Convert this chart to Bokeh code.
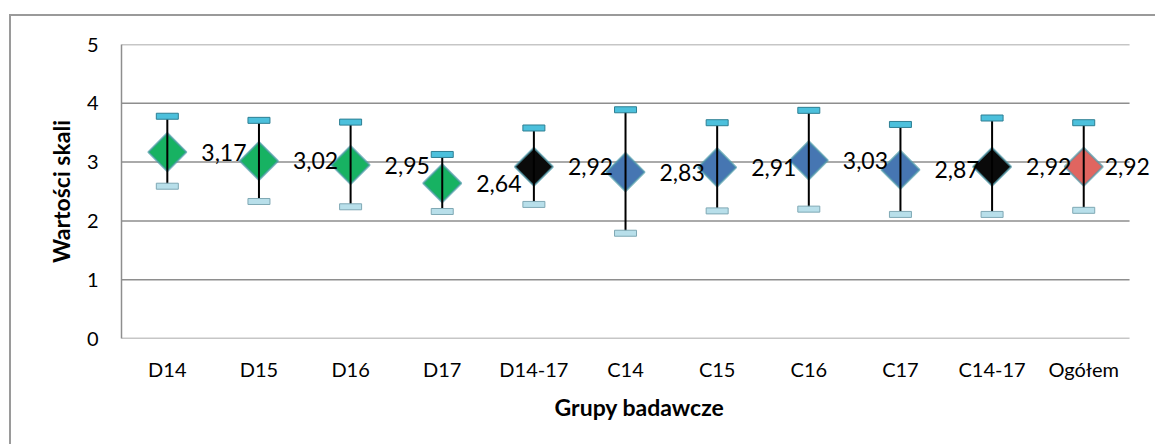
import math
from bokeh.plotting import figure
from bokeh.layouts import column, row
from bokeh.models import (ColumnDataSource, Range1d, FixedTicker, LabelSet, Spacer)
from bokeh.core.properties import value
from bokeh.embed import file_html
from bokeh.resources import INLINE

categories = ["D14", "D15", "D16", "D17", "D14-17", "C14", "C15", "C16", "C17", "C14-17", "Ogółem"]
means = [3.17, 3.02, 2.95, 2.64, 2.92, 2.83, 2.91, 3.03, 2.87, 2.92, 2.92]
upper = [3.78, 3.71, 3.68, 3.13, 3.58, 3.89, 3.67, 3.88, 3.64, 3.75, 3.67]
lower = [2.59, 2.33, 2.24, 2.16, 2.28, 1.79, 2.17, 2.20, 2.11, 2.11, 2.18]
y_ticks = [0, 1, 2, 3, 4, 5]
group_colors = ["#17B262", "#17B262", "#17B262", "#17B262", "#0A0A0A",
                "#4676B2", "#4676B2", "#4676B2", "#4676B2", "#0A0A0A", "#E06560"]
label_texts = [f"{v:.2f}".replace(".", ",") for v in means]
label_offsets = [34, 34, 34, 34, 34, 34, 34, 34, 34, 34, 21]

# category slots: i-th category centred in slot [i, i+1]
xpos = [i + 0.5 for i in range(len(categories))]

src = ColumnDataSource(dict(
    x=xpos, mean=means, up=upper, lo=lower, color=group_colors,
    txt=label_texts, xoff=label_offsets,
))
grid_src = ColumnDataSource(dict(
    x0=[0] * len(y_ticks), x1=[len(categories)] * len(y_ticks), y=y_ticks,
))

FONT = "Lato"
GRID = "#8E8E8E"

p = figure(
    x_range=Range1d(0, len(categories) + 0.305),
    y_range=Range1d(0, 5),
    width=1146, height=430,
    output_backend="svg", toolbar_location=None,
    min_border_left=110, min_border_right=0, min_border_top=28, min_border_bottom=108,
)
p.styles = {"border-top": "2px solid #9A9A9A", "border-left": "2px solid #9A9A9A"}
p.outline_line_color = None
p.background_fill_color = "white"
p.border_fill_color = "white"

p.xgrid.grid_line_color = None
p.ygrid.grid_line_color = None
p.yaxis.ticker = FixedTicker(ticks=y_ticks)
p.xaxis.ticker = FixedTicker(ticks=xpos)
p.xaxis.major_label_overrides = {x: c for x, c in zip(xpos, categories)}

for ax in (p.xaxis[0], p.yaxis[0]):
    ax.major_tick_line_color = None
    ax.minor_tick_line_color = None
    ax.major_label_text_font = FONT
    ax.major_label_text_font_size = "20px"
    ax.major_label_text_color = "black"
    ax.axis_label_text_font = FONT
    ax.axis_label_text_font_style = "bold"
    ax.axis_label_text_font_size = "23px"
    ax.axis_label_text_color = "black"

p.xaxis.axis_line_color = None
p.yaxis.axis_line_color = GRID
p.yaxis.axis_line_width = 1.5
p.xaxis.axis_label = "Grupy badawcze"
p.yaxis.axis_label = "Wartości skali"
p.yaxis.major_label_standoff = 17
p.yaxis.axis_label_standoff = 9
p.xaxis.major_label_standoff = 12
p.xaxis.axis_label_standoff = 9

# horizontal gridlines across the category slots
p.segment(x0="x0", y0="y", x1="x1", y1="y", source=grid_src, line_color=GRID, line_width=1.5)

# diamonds (rotated squares)
p.scatter(x="x", y="mean", source=src, marker="square", size=27, angle=math.pi / 4,
          fill_color="color", line_color="#4E9AAA", line_alpha=0.7, line_width=2)

# whiskers
p.segment(x0="x", y0="lo", x1="x", y1="up", source=src, line_color="black", line_width=2)

# caps
p.rect(x="x", y="up", width=22, height=6, width_units="screen", height_units="screen",
       source=src, fill_color="#4CC0DC", line_color="#2E7F93", line_width=1)
p.rect(x="x", y="lo", width=22, height=6, width_units="screen", height_units="screen",
       source=src, fill_color="#B8DFEA", line_color="#7FA8B4", line_width=1)

labels = LabelSet(x="x", y="mean", text="txt", source=src, x_offset="xoff",
                  text_font=value(FONT), text_font_size="23px", text_color="black",
                  text_align="left", text_baseline="middle", level="overlay")
p.add_layout(labels)

layout = column(Spacer(height=14), row(Spacer(width=9), p))

open("out.html", "w").write(file_html(layout, INLINE))
